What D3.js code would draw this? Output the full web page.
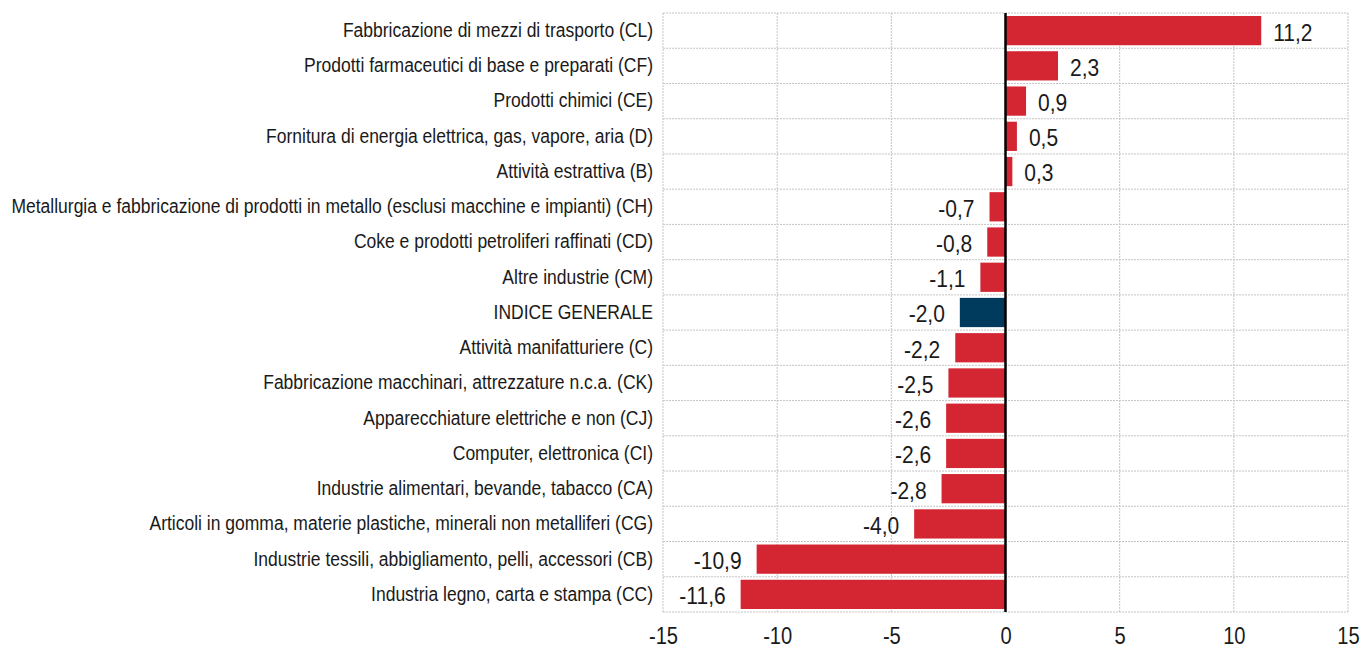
<!DOCTYPE html>
<html><head><meta charset="utf-8">
<script src="https://cdn.jsdelivr.net/npm/d3@7"></script>
<style>
body{margin:0;background:#fff;}
text{font-family:"Liberation Sans Narrow","Arial Narrow","Liberation Sans",Arial,sans-serif;fill:#1a1a1a;}
</style></head><body>
<svg id="c" width="1363" height="651"></svg>
<script>
const categories = [
"Fabbricazione di mezzi di trasporto (CL)",
"Prodotti farmaceutici di base e preparati (CF)",
"Prodotti chimici (CE)",
"Fornitura di energia elettrica, gas, vapore, aria (D)",
"Attività estrattiva (B)",
"Metallurgia e fabbricazione di prodotti in metallo (esclusi macchine e impianti) (CH)",
"Coke e prodotti petroliferi raffinati (CD)",
"Altre industrie (CM)",
"INDICE GENERALE",
"Attività manifatturiere (C)",
"Fabbricazione macchinari, attrezzature n.c.a. (CK)",
"Apparecchiature elettriche e non (CJ)",
"Computer, elettronica (CI)",
"Industrie alimentari, bevande, tabacco (CA)",
"Articoli in gomma, materie plastiche, minerali non metalliferi (CG)",
"Industrie tessili, abbigliamento, pelli, accessori (CB)",
"Industria legno, carta e stampa (CC)"
];
const values = [11.2, 2.3, 0.9, 0.5, 0.3, -0.7, -0.8, -1.1, -2.0, -2.2, -2.5, -2.6, -2.6, -2.8, -4.0, -10.9, -11.6];
const highlight = ["INDICE GENERALE"];
const xTicks = [-15, -10, -5, 0, 5, 10, 15];

const SX = 0.875; // horizontal condensing to mimic a narrow font
const svg = d3.select("#c");
const m = {left: 663, right: 1348, top: 13, bottom: 612};
const x = d3.scaleLinear().domain([-15, 15]).range([m.left, m.right]);
const y = d3.scaleBand().domain(categories).range([m.top, m.bottom]).paddingInner(0.17).paddingOuter(0.085);
const step = y.step();

// gridlines
const g = svg.append("g");
xTicks.forEach(t => {
  g.append("line").attr("x1", x(t)).attr("x2", x(t)).attr("y1", m.top).attr("y2", m.bottom)
   .attr("stroke", "#c4c4c4").attr("stroke-width", 1).attr("stroke-dasharray", "2,1");
});
for (let i = 0; i <= categories.length; i++) {
  const yy = m.top + i * step;
  g.append("line").attr("x1", m.left).attr("x2", m.right).attr("y1", yy).attr("y2", yy)
   .attr("stroke", "#c4c4c4").attr("stroke-width", 1).attr("stroke-dasharray", "2,1");
}

// bars
svg.append("g").selectAll("rect").data(categories).join("rect")
  .attr("x", (d, i) => Math.min(x(0), x(values[i])))
  .attr("width", (d, i) => Math.abs(x(values[i]) - x(0)))
  .attr("y", d => y(d))
  .attr("height", y.bandwidth())
  .attr("fill", d => highlight.includes(d) ? "#003a5c" : "#d42632");

// zero line
svg.append("line").attr("x1", x(0)).attr("x2", x(0)).attr("y1", m.top).attr("y2", m.bottom)
  .attr("stroke", "#000").attr("stroke-width", 2.5);

// value labels
const fmt = v => v.toFixed(1).replace(".", ",");
svg.append("g").selectAll("text").data(categories).join("text")
  .attr("transform", (d, i) => {
    const px = values[i] >= 0 ? x(values[i]) + 12 : x(values[i]) - 15;
    return `translate(${px},${y(d) + y.bandwidth() / 2 + 1.5}) scale(${SX},1)`;
  })
  .attr("dy", "0.35em")
  .attr("text-anchor", (d, i) => values[i] >= 0 ? "start" : "end")
  .attr("font-size", 24)
  .text((d, i) => fmt(values[i]));

// category labels
const pad = 10;
const yAxis = d3.axisLeft(y).tickSize(0).tickPadding(pad);
const ya = svg.append("g").attr("transform", `translate(${m.left},0)`).call(yAxis);
ya.select(".domain").remove();
ya.selectAll("text").attr("font-size", 20).attr("font-family", null).style("fill", "#1a1a1a")
  .attr("x", -pad / SX).attr("transform", `scale(${SX},1)`);

// x axis
const xAxis = d3.axisBottom(x).tickValues(xTicks).tickSize(0).tickPadding(16).tickFormat(d => d);
const xa = svg.append("g").attr("transform", `translate(0,${m.bottom})`).call(xAxis);
xa.select(".domain").remove();
xa.selectAll("text").attr("font-size", 23).attr("font-family", null).style("fill", "#1a1a1a")
  .attr("transform", `scale(${SX},1)`);
</script>
</body></html>
